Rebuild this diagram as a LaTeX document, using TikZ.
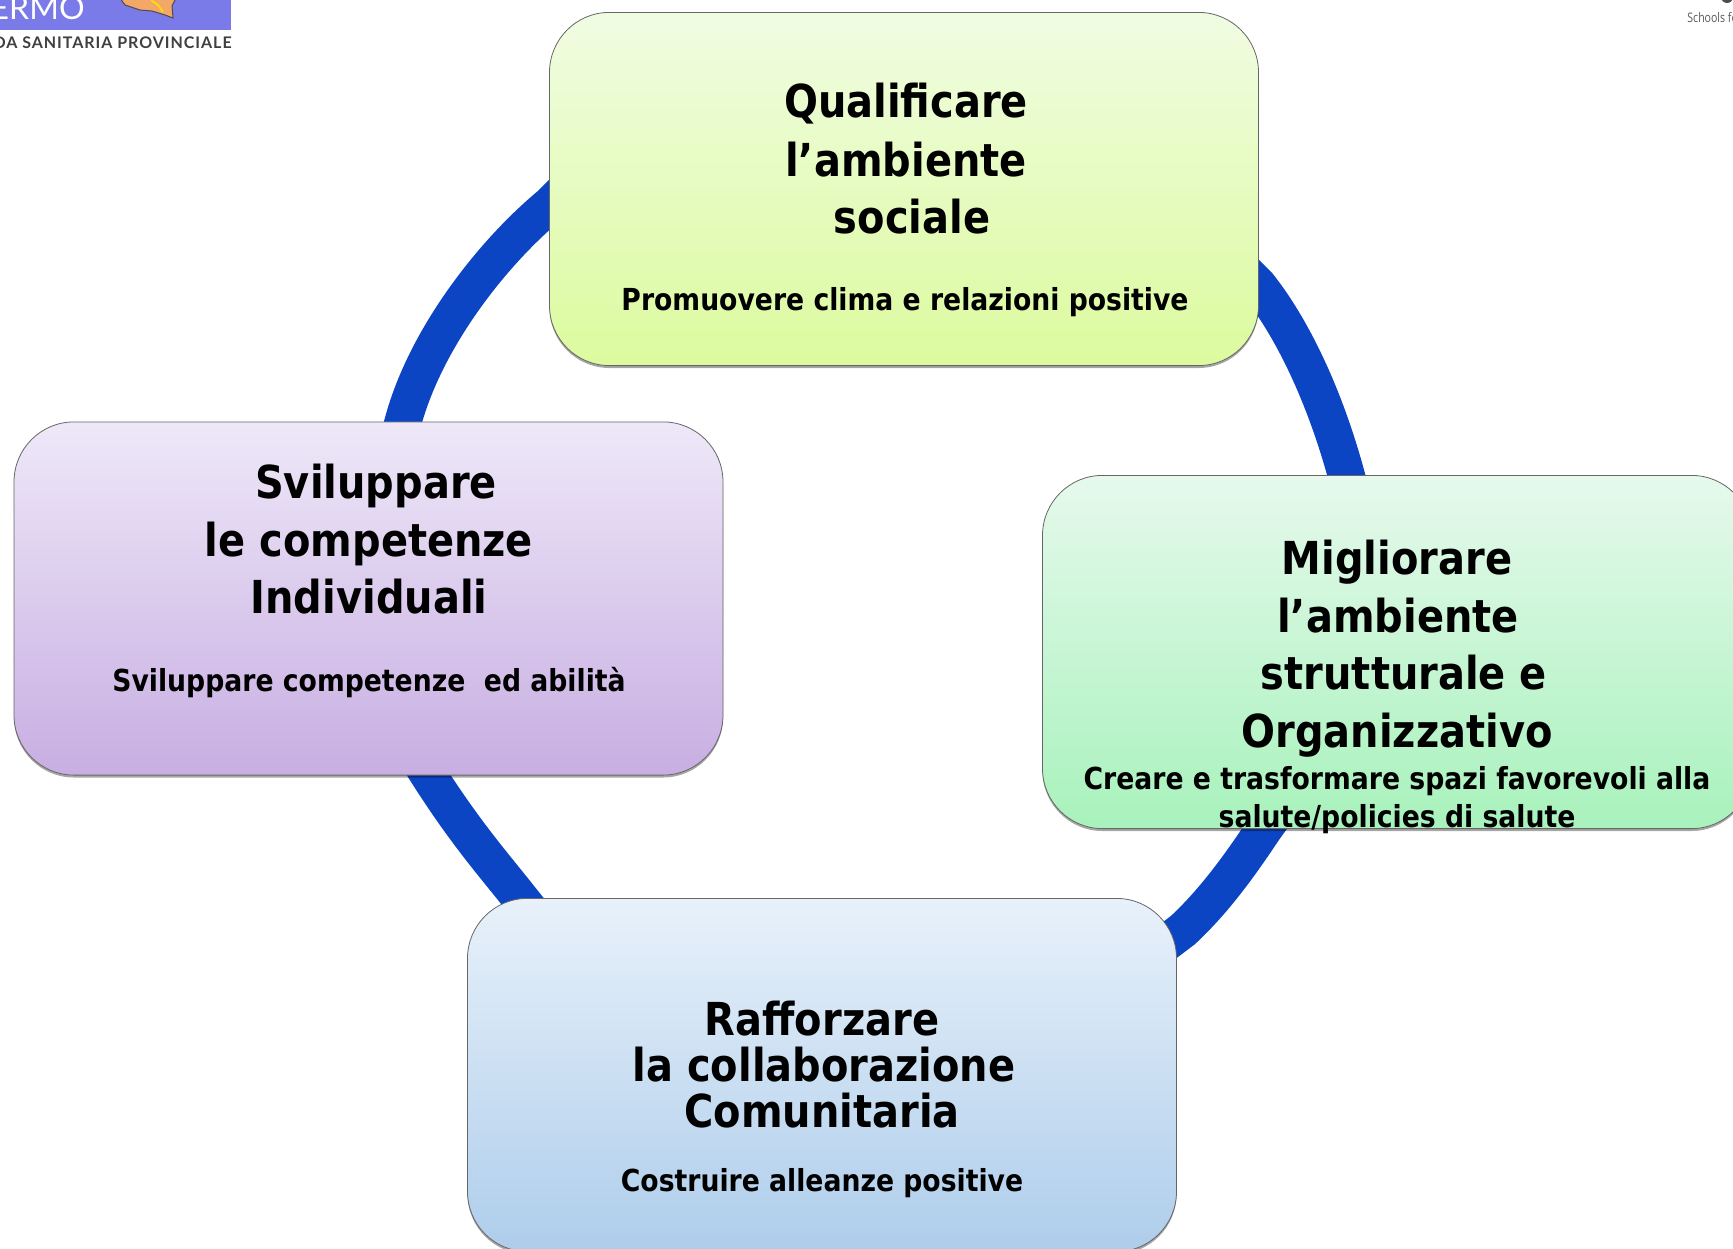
\documentclass[tikz,border=0pt]{standalone}
\usepackage{fontspec}
\setmainfont{DejaVu Sans}[FakeStretch=0.88]
\newfontfamily\logofont{Lato}
\newfontfamily\narrowfont{Open Sans}[FakeStretch=0.8]
\usetikzlibrary{shadows}
\definecolor{ringblue}{HTML}{0B45C4}
\tikzset{
  x=0.5pt,y=-0.5pt,
  card/.style={draw=black!60,line width=0.4pt,rounded corners=30pt,minimum width=354.5pt,minimum height=176.6pt,inner sep=0pt,
    drop shadow={shadow xshift=0pt,shadow yshift=-1.2pt,fill=black,opacity=.35}},
  ring/.style={draw=ringblue,line width=18.5pt,line cap=butt},
  head/.style={anchor=base,inner sep=0pt,font=\fontsize{22.7}{28}\selectfont\bfseries},
  sub/.style={anchor=base,inner sep=0pt,font=\fontsize{15.15}{18}\selectfont\bfseries},
}
\begin{document}
\begin{tikzpicture}
\path[use as bounding box,clip] (0,0) rectangle (1733,1248);
\fill[white] (0,0) rectangle (1733,1248);
% logo fragments
\fill[fill={rgb,255:red,122;green,122;blue,232}] (0,0) rectangle (231,30);
\node[anchor=base east,inner sep=0pt,text=white,font=\logofont\fontsize{16}{18}\selectfont] (logoa) at (85,19) {ERMO};
\filldraw[fill={rgb,255:red,244;green,168;blue,104},draw=black!70,line width=0.5pt] (120,-2) -- (125,5) -- (140,10) -- (152,11) -- (165,15) -- (173,18) -- (172,6) -- (176,-2) -- cycle;
\draw[yellow!85!orange,line width=0.8pt] (151,0) -- (158,5) -- (163,12);
\node[anchor=base east,inner sep=0pt,text=black!75,font=\logofont\bfseries\fontsize{8}{10}\selectfont\addfontfeature{LetterSpace=6}] (logob) at (232,48) {DA SANITARIA PROVINCIALE};
\node[anchor=base west,inner sep=0pt,text=black!65,font=\narrowfont\fontsize{6.6}{8}\selectfont] (logoc) at (1687,22) {Schools for};
\fill[black!70] (1727,-3) circle[radius=6];
% ring ends, inside the cards that hide them
\coordinate (qL) at (585,170);
\coordinate (qR) at (1235,262);
\coordinate (sT) at (395,450);
\coordinate (sB) at (410,745);
\coordinate (mT) at (1355,510);
\coordinate (mB) at (1285,800);
\coordinate (rT) at (544,928);
\coordinate (rR) at (1150,955);
% ring
\draw[ring] (sT) -- (403,422) .. controls (425,340) and (490,255) .. (550,205) -- (qL);
\draw[ring] (qR) -- (1258,285) .. controls (1290,325) and (1330,400) .. (mT);
\draw[ring] (mB) -- (1264,829) .. controls (1240,865) and (1215,900) .. (1183,930) -- (rR);
\draw[ring] (rT) -- (520,898) .. controls (490,860) and (458,825) .. (sB);
% cards
\node[card,top color={rgb,255:red,240;green,252;blue,226},bottom color={rgb,255:red,220;green,251;blue,158}] (q) at (904,189) {};
\node[card,top color={rgb,255:red,238;green,232;blue,248},bottom color={rgb,255:red,200;green,174;blue,226}] (s) at (368.5,598.5) {};
\node[card,top color={rgb,255:red,230;green,249;blue,236},bottom color={rgb,255:red,168;green,242;blue,188}] (m) at (1397,652) {};
\node[card,top color={rgb,255:red,232;green,241;blue,250},bottom color={rgb,255:red,174;green,205;blue,235}] (r) at (822,1075) {};
% texts
\node[head] (q1) at (906,117) {Qualificare};
\node[head] (q2) at (906,176) {l’ambiente};
\node[head] (q3) at (912,233) {sociale};
\node[sub] (q4) at (905,310) {Promuovere clima e relazioni positive};
\node[head] (s1) at (376,498) {Sviluppare};
\node[head] (s2) at (369,556) {le competenze};
\node[head] (s3) at (369,613) {Individuali};
\node[sub] (s4) at (369,691.5) {Sviluppare competenze\ \ ed abilità};
\node[head] (m1) at (1397,574) {Migliorare};
\node[head] (m2) at (1398,632) {l’ambiente};
\node[head] (m3) at (1404,689) {strutturale e};
\node[head] (m4) at (1397,747) {Organizzativo};
\node[sub] (m5) at (1397,789) {Creare e trasformare spazi favorevoli alla};
\node[sub] (m6) at (1397,827) {salute/policies di salute};
\node[head] (r1) at (822,1035) {Rafforzare};
\node[head] (r2) at (824,1081) {la collaborazione};
\node[head] (r3) at (822,1127) {Comunitaria};
\node[sub] (r4) at (822,1191) {Costruire alleanze positive};
\end{tikzpicture}
\end{document}
